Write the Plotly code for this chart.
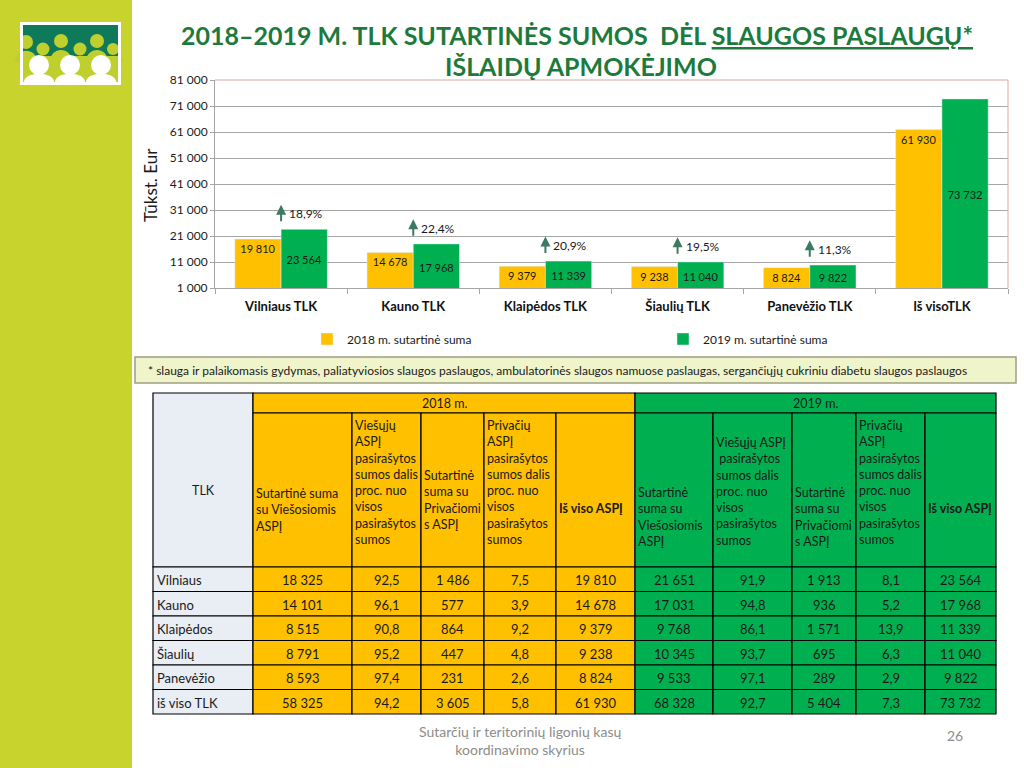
import plotly.graph_objects as go

# ---------------- data ----------------
categories = ["Vilniaus TLK", "Kauno TLK", "Klaipėdos TLK", "Šiaulių TLK", "Panevėžio TLK", "Iš visoTLK"]
v2018 = [19810, 14678, 9379, 9238, 8824, 61930]
v2019 = [23564, 17968, 11339, 11040, 9822, 73732]
growth_pct = ["18,9%", "22,4%", "20,9%", "19,5%", "11,3%", "19,1%"]
series_names = ["2018 m. sutartinė suma", "2019 m. sutartinė suma"]

tlk_names = ["Vilniaus", "Kauno", "Klaipėdos", "Šiaulių", "Panevėžio", "iš viso TLK"]
t18_pub = [18325, 14101, 8515, 8791, 8593, 58325]
t18_pub_pct = [92.5, 96.1, 90.8, 95.2, 97.4, 94.2]
t18_priv = [1486, 577, 864, 447, 231, 3605]
t18_priv_pct = [7.5, 3.9, 9.2, 4.8, 2.6, 5.8]
t18_total = [19810, 14678, 9379, 9238, 8824, 61930]
t19_pub = [21651, 17031, 9768, 10345, 9533, 68328]
t19_pub_pct = [91.9, 94.8, 86.1, 93.7, 97.1, 92.7]
t19_priv = [1913, 936, 1571, 695, 289, 5404]
t19_priv_pct = [8.1, 5.2, 13.9, 6.3, 2.9, 7.3]
t19_total = [23564, 17968, 11339, 11040, 9822, 73732]

year_labels = ["2018 m.", "2019 m."]
hdr18 = ["Sutartinė suma<br>su Viešosiomis<br>ASPĮ",
         "Viešųjų<br>ASPĮ<br>pasirašytos<br>sumos dalis<br>proc. nuo<br>visos<br>pasirašytos<br>sumos",
         "Sutartinė<br>suma su<br>Privačiomi<br>s ASPĮ",
         "Privačių<br>ASPĮ<br>pasirašytos<br>sumos dalis<br>proc. nuo<br>visos<br>pasirašytos<br>sumos",
         "<b>Iš viso ASPĮ</b>"]
hdr19 = ["Sutartinė<br>suma su<br>Viešosiomis<br>ASPĮ",
         "Viešųjų ASPĮ<br> pasirašytos<br>sumos dalis<br>proc. nuo<br>visos<br>pasirašytos<br>sumos",
         "Sutartinė<br>suma su<br>Privačiomi<br>s ASPĮ",
         "Privačių<br>ASPĮ<br>pasirašytos<br>sumos dalis<br>proc. nuo<br>visos<br>pasirašytos<br>sumos",
         "<b>Iš viso ASPĮ</b>"]

title_line1 = "2018–2019 M. TLK SUTARTINĖS SUMOS  DĖL <u>SLAUGOS PASLAUGŲ*</u>"
title_line2 = "IŠLAIDŲ APMOKĖJIMO"
footnote = "* slauga ir palaikomasis gydymas, paliatyviosios slaugos paslaugos, ambulatorinės slaugos namuose paslaugas, sergančiųjų cukriniu diabetu slaugos paslaugos"
footer = "Sutarčių ir teritorinių ligonių kasų<br>koordinavimo skyrius"
page_no = "26"

# ---------------- style ----------------
W, H = 1024, 768
FONT = "Lato, Carlito, Open Sans, sans-serif"
YELLOW = "#FFC000"
GREEN = "#00B050"
LAV = "#E9EDF4"
TITLE_GREEN = "#1E7A3C"
LIME = "#C8D32D"
GRID = "#A6A6A6"
ARROW = "#3D7A62"


def fmt_int(v):
    return f"{v:,}".replace(",", " ")


def fmt_pct(v):
    return f"{v:.1f}".replace(".", ",")


fig = go.Figure()

fig.add_trace(go.Bar(
    name=series_names[0], x=categories, y=v2018, marker_color=YELLOW,
    texttemplate="%{y:,}", textposition="inside", insidetextanchor="end", textangle=0,
    textfont=dict(family=FONT, size=11, color="#1a1a1a"), hoverinfo="skip"))
fig.add_trace(go.Bar(
    name=series_names[1], x=categories, y=v2019, marker_color=GREEN,
    texttemplate="%{y:,}", textposition="inside", insidetextanchor="middle", textangle=0,
    textfont=dict(family=FONT, size=11, color="#1a1a1a"), hoverinfo="skip"))

# invisible trace to create the page overlay axes (pixel-like scale)
fig.add_trace(go.Scatter(x=[0], y=[0], xaxis="x2", yaxis="y2", mode="markers",
                         marker=dict(opacity=0), showlegend=False, hoverinfo="skip"))

shapes = []
annotations = []


def rect(x0, y0, x1, y1, fill, line="black", lw=1.2, layer="above"):
    shapes.append(dict(type="rect", xref="x2", yref="y2", x0=x0, y0=y0, x1=x1, y1=y1,
                       fillcolor=fill, line=dict(color=line, width=lw), layer=layer))


def text(x, y, t, size=12, color="#1a1a1a", xanchor="center", yanchor="middle", align="center", **kw):
    annotations.append(dict(xref="x2", yref="y2", x=x, y=y, text=t, showarrow=False,
                            xanchor=xanchor, yanchor=yanchor, align=align,
                            font=dict(family=FONT, size=size, color=color), **kw))


# ---- left strip & logo ----
rect(0, 0, 132, H, LIME, line=LIME, lw=0, layer="below")
rect(20, 22, 121, 85, "white", line="white", lw=0)
rect(23, 25, 118, 82, "#BFCF2E", line="#BFCF2E", lw=0)
rect(23, 25, 118, 56, "#0E7A5A", line="#0E7A5A", lw=0)
for cx, cy, r in [(26, 42, 7), (43, 49, 6.5), (61, 41, 7), (80, 49, 6.5), (97, 41, 7), (113, 49, 6)]:
    shapes.append(dict(type="circle", xref="x2", yref="y2", x0=cx - r, x1=cx + r, y0=cy - r, y1=cy + r,
                       fillcolor="#BFCF2E", line=dict(width=0)))
    shapes.append(dict(type="path", xref="x2", yref="y2",
                       path=f"M{cx-11},62 C{cx-11},{cy+5} {cx+11},{cy+5} {cx+11},62 Z",
                       fillcolor="#BFCF2E", line=dict(width=0)))
for cx in [39, 70, 101]:
    shapes.append(dict(type="circle", xref="x2", yref="y2", x0=cx - 10, x1=cx + 10, y0=55, y1=75,
                       fillcolor="white", line=dict(width=0)))
    shapes.append(dict(type="path", xref="x2", yref="y2",
                       path=f"M{cx-15},82 C{cx-15},71 {cx+15},71 {cx+15},82 Z",
                       fillcolor="white", line=dict(width=0)))
rect(21.5, 23.5, 119.5, 83.5, "rgba(0,0,0,0)", line="white", lw=3)

# ---- title ----
annotations.append(dict(xref="x2", yref="y2", x=577, y=35, text="<b>" + title_line1 + "</b>",
                        showarrow=False, font=dict(family=FONT, size=25, color=TITLE_GREEN)))
annotations.append(dict(xref="x2", yref="y2", x=581, y=66, text="<b>" + title_line2 + "</b>",
                        showarrow=False, font=dict(family=FONT, size=25, color=TITLE_GREEN)))

# ---- y axis title ----
annotations.append(dict(xref="x2", yref="y2", x=150, y=185, text="Tūkst. Eur", textangle=-90,
                        showarrow=False, font=dict(family=FONT, size=17, color="#1a1a1a")))

# ---- plot-area border (top & right) ----
shapes.append(dict(type="line", xref="x domain", yref="y domain", x0=0, x1=1, y0=1, y1=1,
                   line=dict(color="#D8A8A8", width=1)))
shapes.append(dict(type="line", xref="x domain", yref="y domain", x0=1, x1=1, y0=0, y1=1,
                   line=dict(color="#D8A8A8", width=1)))

# ---- growth arrows ----
for cat, val, pct in zip(categories, v2019, growth_pct):
    head = val + 9500
    annotations.append(dict(xref="x", yref="y", x=cat, y=head, text="", showarrow=True,
                            ax=0, ay=18, arrowhead=2, arrowsize=1, arrowwidth=2, arrowcolor=ARROW,
                            standoff=0, startstandoff=0))
    annotations.append(dict(xref="x", yref="y", x=cat, y=head, text=pct, showarrow=False,
                            xanchor="left", yanchor="middle", xshift=6, yshift=-9,
                            font=dict(family=FONT, size=12, color="#1a1a1a")))

# ---- footnote box ----
rect(135, 357, 1016, 383, "#F0F4CA", line="#9E9E82", lw=1.5)
text(146, 370, footnote, size=12, xanchor="left", align="left")

# ---- table ----
col_x = [153, 253, 352, 421, 484, 556, 635, 713, 792, 856, 925, 996]
hdr_y = [393, 413, 567]
row_h = 24.5
hdr_last_line = [527, 543, 526, 543, 508, 543, 543, 543, 543, 508]
LINE_H = 17.3

# TLK header (merged)
rect(col_x[0], hdr_y[0], col_x[1], hdr_y[2], LAV)
text((col_x[0] + col_x[1]) / 2, 490, "TLK", size=12.5)
# year header rows
year_fills = [YELLOW, GREEN]
for k in range(2):
    x0, x1 = col_x[1 + 5 * k], col_x[6 + 5 * k]
    rect(x0, hdr_y[0], x1, hdr_y[1], year_fills[k])
    text((x0 + x1) / 2, (hdr_y[0] + hdr_y[1]) / 2 + 0.5, year_labels[k], size=12.5)

headers = hdr18 + hdr19
for i, h in enumerate(headers):
    x0, x1 = col_x[1 + i], col_x[2 + i]
    rect(x0, hdr_y[1], x1, hdr_y[2], year_fills[i // 5])
    n = h.count("<br>") + 1
    cy = hdr_last_line[i] - (n - 1) * LINE_H / 2
    text(x0 + 0.5, cy, h, size=12.5, xanchor="left", align="left")

body_cols = [(t18_pub, fmt_int), (t18_pub_pct, fmt_pct), (t18_priv, fmt_int), (t18_priv_pct, fmt_pct),
             (t18_total, fmt_int), (t19_pub, fmt_int), (t19_pub_pct, fmt_pct), (t19_priv, fmt_int),
             (t19_priv_pct, fmt_pct), (t19_total, fmt_int)]
for r, name in enumerate(tlk_names):
    y0 = hdr_y[2] + r * row_h
    y1 = y0 + row_h
    cy = (y0 + y1) / 2 + 1
    rect(col_x[0], y0, col_x[1], y1, LAV)
    text(col_x[0] + 1.5, cy, name, size=13, xanchor="left", align="left")
    for c, (vals, f) in enumerate(body_cols):
        x0, x1 = col_x[1 + c], col_x[2 + c]
        rect(x0, y0, x1, y1, year_fills[c // 5])
        text((x0 + x1) / 2, cy, f(vals[r]), size=13)

# ---- footer ----
text(520, 740, footer, size=14, color="#8C8C8C")
text(955, 735, page_no, size=14, color="#8C8C8C")

fig.update_layout(
    width=W, height=H, margin=dict(l=0, r=0, t=0, b=0, pad=0, autoexpand=False),
    paper_bgcolor="white", plot_bgcolor="rgba(0,0,0,0)",
    separators=", ",
    barmode="group", bargap=0.3, bargroupgap=0,
    font=dict(family=FONT, size=12, color="#1a1a1a"),
    xaxis=dict(domain=[215 / W, 1008 / W], anchor="y", showline=True, linecolor=GRID,
               ticks="outside", tickson="boundaries", ticklen=5, tickcolor=GRID,
               tickfont=dict(family=FONT, size=13, color="#111", weight="bold"),
               ticklabelstandoff=6, showgrid=False, fixedrange=True, automargin=False),
    yaxis=dict(domain=[1 - 288 / H, 1 - 80 / H], anchor="x", range=[1000, 81000],
               tick0=1000, dtick=10000, tickformat=",", showline=True, linecolor=GRID,
               ticks="outside", ticklen=4, tickcolor=GRID, gridcolor=GRID, gridwidth=1,
               zeroline=False, tickfont=dict(family=FONT, size=12, color="#1a1a1a"),
               fixedrange=True, automargin=False),
    xaxis2=dict(domain=[0, 1], range=[0, W], visible=False, anchor="y2", fixedrange=True, automargin=False),
    yaxis2=dict(domain=[0, 1], range=[H, 0], visible=False, anchor="x2", fixedrange=True, automargin=False),
    legend=dict(orientation="h", x=307 / W, xanchor="left", y=1 - 339 / H, yanchor="middle",
                entrywidth=311, entrywidthmode="pixels", bgcolor="rgba(0,0,0,0)",
                font=dict(family=FONT, size=12, color="#1a1a1a"), traceorder="normal"),
    shapes=shapes, annotations=annotations, showlegend=True,
)

post = ("var d=document.getElementById('{plot_id}');"
        "d.style.position='fixed';d.style.top='0px';d.style.left='0px';"
        "document.documentElement.style.margin='0';document.documentElement.style.padding='0';"
        "document.documentElement.style.overflow='hidden';"
        "document.body.style.margin='0';document.body.style.padding='0';document.body.style.overflow='hidden';")
fig.write_html("out.html", config={"displayModeBar": False}, post_script=post)
